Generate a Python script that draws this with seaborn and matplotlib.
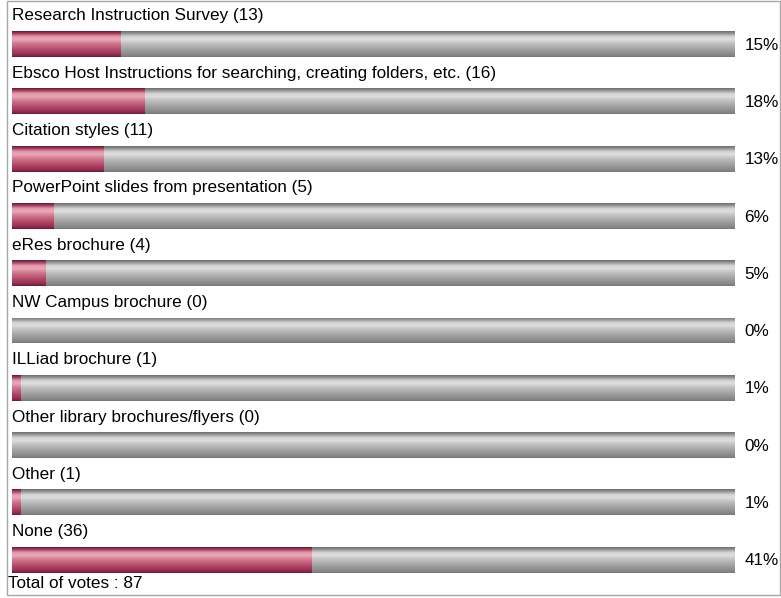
import numpy as np
import pandas as pd
import matplotlib.pyplot as plt
import seaborn as sns
from matplotlib.colors import LinearSegmentedColormap
from matplotlib.patches import Rectangle

# Poll results
labels = [
    "Research Instruction Survey",
    "Ebsco Host Instructions for searching, creating folders, etc.",
    "Citation styles",
    "PowerPoint slides from presentation",
    "eRes brochure",
    "NW Campus brochure",
    "ILLiad brochure",
    "Other library brochures/flyers",
    "Other",
    "None",
]
votes = [13, 16, 11, 5, 4, 0, 1, 0, 1, 36]
total_votes = 87

df = pd.DataFrame({"label": labels, "votes": votes})
df["pct"] = df["votes"] / total_votes * 100
df["full"] = 100.0

sns.set_theme(style="white")
plt.rcParams["font.family"] = ["Liberation Sans", "DejaVu Sans"]

W, H = 781, 598
fig = plt.figure(figsize=(W / 100, H / 100), dpi=100)

# axes in pixel terms: bars from x=12 to x=735, rows spaced ~57px
x0, x1 = 12, 735
row = 57.3
top = 44 - row / 2
ax = fig.add_axes([x0 / W, 1 - (top + 10 * row) / H, (x1 - x0) / W, 10 * row / H])

bar_h = 26 / row
sns.barplot(data=df, x="full", y="label", orient="h", color="#999999",
            width=bar_h, ax=ax, order=labels)
sns.barplot(data=df, x="pct", y="label", orient="h", color="#c04060",
            width=bar_h, ax=ax, order=labels)

gray_cmap = LinearSegmentedColormap.from_list("g", [
    (0.0, "#6e6e6e"), (0.1, "#9a9a9a"), (0.2, "#d2d2d2"), (0.32, "#dedede"),
    (0.48, "#c0c0c0"), (0.75, "#9c9c9c"), (0.92, "#888888"), (1.0, "#787878")])
red_cmap = LinearSegmentedColormap.from_list("r", [
    (0.0, "#6a1830"), (0.1, "#a84a68"), (0.2, "#e298ac"), (0.32, "#eaa8b8"),
    (0.48, "#d27890"), (0.75, "#b04466"), (0.92, "#902e4e"), (1.0, "#6e1a34")])

grad = np.linspace(0, 1, 64).reshape(-1, 1)
n = len(labels)
for k, p in enumerate(ax.patches):
    cmap = gray_cmap if k < n else red_cmap
    bx, by = p.get_x(), p.get_y()
    bw, bh = p.get_width(), p.get_height()
    if bw <= 0:
        continue
    p.set_alpha(0)
    im = ax.imshow(grad, cmap=cmap, aspect="auto",
                   extent=(bx, bx + bw, by + bh, by), zorder=3)
    im.set_clip_path(p)

ax.set_xlim(0, 100)
ax.set_ylim(n - 0.5, -0.5)
ax.axis("off")

fs = 12.3
for i, (lab, v, pc) in enumerate(zip(labels, votes, df["pct"])):
    ax.text(0, i - 0.49, f"{lab} ({v})", ha="left", va="center",
            fontsize=fs, color="black", clip_on=False)
    ax.text(101.3, i + 0.02, f"{pc:.0f}%", ha="left", va="center",
            fontsize=fs, color="black", clip_on=False)

fig.text(8 / W, 1 - 583 / H, f"Total of votes : {total_votes}",
         ha="left", va="center", fontsize=fs, color="black")

fig.patches.append(Rectangle((6.5 / W, 1 - 594.5 / H), (779.5 - 6.5) / W, 594 / H,
                             transform=fig.transFigure, fill=False,
                             edgecolor="#a8a8a8", linewidth=1))

fig.savefig("out.png", dpi=100)
